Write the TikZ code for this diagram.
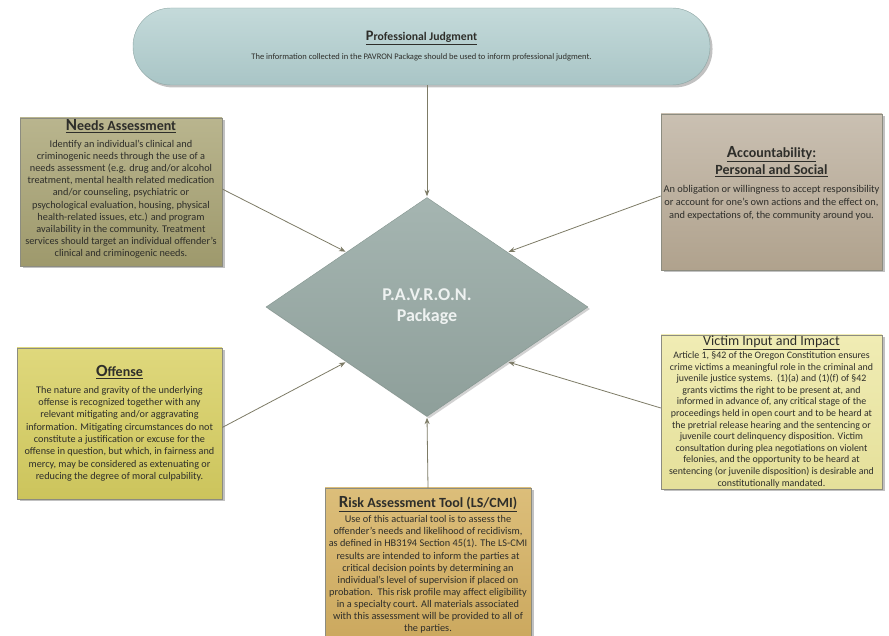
\documentclass[tikz,border=0pt]{standalone}
\usepackage{fontspec}
\setmainfont{Carlito}
\usetikzlibrary{shapes.geometric,shadows,arrows.meta}

% colours of the boxes
\definecolor{pillTop}{HTML}{C4DADA}
\definecolor{pillBot}{HTML}{A9C5C6}
\definecolor{pillLine}{HTML}{8EA6A4}
\definecolor{diaTop}{HTML}{A5B5B1}
\definecolor{diaBot}{HTML}{8E9F9A}
\definecolor{diaLine}{HTML}{84958F}
\definecolor{needTop}{HTML}{B9B58E}
\definecolor{needBot}{HTML}{9E996C}
\definecolor{accTop}{HTML}{CAC0B2}
\definecolor{accBot}{HTML}{B0A28D}
\definecolor{offTop}{HTML}{DFD87C}
\definecolor{offBot}{HTML}{CCC45C}
\definecolor{vicTop}{HTML}{F0ECB4}
\definecolor{vicBot}{HTML}{E5E09A}
\definecolor{riskTop}{HTML}{DCBE7A}
\definecolor{riskBot}{HTML}{CBA85E}
\definecolor{boxLine}{HTML}{8C8C80}
\definecolor{arrowCol}{HTML}{7D7B66}
\definecolor{inkCol}{HTML}{2E2E2A}
\definecolor{diaText}{HTML}{EEF2F1}

% underlined bold heading with an enlarged first letter
\newcommand{\boxtitle}[2]{\underline{\bfseries{\fontsize{17}{18}\selectfont #1}#2}}

\begin{document}
\begin{tikzpicture}[x=1pt,y=1pt,
  infobox/.style={draw=boxLine, line width=0.4pt, rectangle, inner sep=0pt,
    align=center, text=inkCol,
    drop shadow={shadow xshift=2.5pt, shadow yshift=-2.5pt, opacity=0.35, fill=black!70},
    font=\fontsize{10.3}{12.1}\selectfont},
  feed/.style={draw=arrowCol, line width=0.8pt, -{Stealth[length=6.5pt,width=5pt]}, shorten >=1pt}
]
\useasboundingbox (0,0) rectangle (889,635);

% top banner
\node[infobox, draw=pillLine, rounded corners=38pt, minimum width=577pt, minimum height=77pt,
      top color=pillTop, bottom color=pillBot,
      font=\fontsize{8.5}{10}\selectfont] (judge) at (421.5,588.5)
  {\underline{\bfseries{\fontsize{14.5}{16}\selectfont P}\fontsize{11.7}{13}\selectfont rofessional Judgment}\\[9pt]
   The information collected in the PAVRON Package should be used to inform professional judgment.};

% central diamond
\node[diamond, draw=diaLine, line width=0.4pt, minimum width=322pt, minimum height=219pt,
      aspect=1.47, inner sep=0pt, top color=diaTop, bottom color=diaBot,
      drop shadow={shadow xshift=2pt, shadow yshift=-2pt, opacity=0.25, fill=black!70},
      align=center, text=diaText, font=\bfseries\fontsize{18}{21}\selectfont] (pav) at (427,328)
  {P.A.V.R.O.N.\\Package};

% needs assessment
\node[infobox, minimum width=202pt, minimum height=148pt, top color=needTop, bottom color=needBot] (needs) at (121,443)
  {{\fontsize{14}{16}\selectfont\boxtitle{N}{eeds Assessment}}\\[5pt]
   Identify an individual’s clinical and\\
   criminogenic needs through the use of a\\
   needs assessment (e.g. drug and/or alcohol\\
   treatment, mental health related medication\\
   and/or counseling, psychiatric or\\
   psychological evaluation, housing, physical\\
   health-related issues, etc.) and program\\
   availability in the community. Treatment\\
   services should target an individual offender’s\\
   clinical and criminogenic needs.\\[-4pt]};

% accountability
\node[infobox, minimum width=221pt, minimum height=156pt, top color=accTop, bottom color=accBot,
      font=\fontsize{10.4}{13}\selectfont] (acc) at (771.5,443)
  {{\fontsize{14}{16}\selectfont\boxtitle{A}{ccountability:}}\\[2pt]
   {\fontsize{14}{16}\selectfont\underline{\bfseries Personal and Social}}\\[5pt]
   An obligation or willingness to accept responsibility\\
   or account for one’s own actions and the effect on,\\
   and expectations of, the community around you.\\[6pt]};

% offense
\node[infobox, minimum width=205pt, minimum height=151pt, top color=offTop, bottom color=offBot,
      font=\fontsize{10.2}{12.3}\selectfont] (off) at (119.5,211.5)
  {{\fontsize{14}{16}\selectfont\boxtitle{O}{ffense}}\\[4pt]
   The nature and gravity of the underlying\\
   offense is recognized together with any\\
   relevant mitigating and/or aggravating\\
   information. Mitigating circumstances do not\\
   constitute a justification or excuse for the\\
   offense in question, but which, in fairness and\\
   mercy, may be considered as extenuating or\\
   reducing the degree of moral culpability.};

% victim input
\node[infobox, minimum width=221pt, minimum height=154pt, top color=vicTop, bottom color=vicBot,
      font=\fontsize{9.9}{11.6}\selectfont] (vic) at (771.5,223)
  {{\fontsize{14}{16}\selectfont\underline{Victim Input and Impact}}\\[1pt]
   Article 1, §42 of the Oregon Constitution ensures\\
   crime victims a meaningful role in the criminal and\\
   juvenile justice systems.\ \ (1)(a) and (1)(f) of §42\\
   grants victims the right to be present at, and\\
   informed in advance of, any critical stage of the\\
   proceedings held in open court and to be heard at\\
   the pretrial release hearing and the sentencing or\\
   juvenile court delinquency disposition. Victim\\
   consultation during plea negotiations on violent\\
   felonies, and the opportunity to be heard at\\
   sentencing (or juvenile disposition) is desirable and\\
   constitutionally mandated.};

% risk assessment tool
\node[infobox, minimum width=206pt, minimum height=154pt, top color=riskTop, bottom color=riskBot,
      font=\fontsize{10.3}{12.1}\selectfont] (risk) at (428,70)
  {{\fontsize{14}{16}\selectfont\boxtitle{R}{isk Assessment Tool (LS/CMI)}}\\[3pt]
   Use of this actuarial tool is to assess the\\
   offender’s needs and likelihood of recidivism,\\
   as defined in HB3194 Section 45(1). The LS-CMI\\
   results are intended to inform the parties at\\
   critical decision points by determining an\\
   individual’s level of supervision if placed on\\
   probation.\ \ This risk profile may affect eligibility\\
   in a specialty court. All materials associated\\
   with this assessment will be provided to all of\\
   the parties.};

% connectors into the package
\draw[feed] (judge.south -| pav.north) -- (pav.north);
\draw[feed] ([yshift=3pt]needs.east) -- (pav.north west);
\draw[feed] ([yshift=-4pt]acc.west) -- (pav.north east);
\draw[feed] ([yshift=-4pt]off.east) -- (pav.south west);
\draw[feed] ([yshift=4pt]vic.west) -- (pav.south east);
\draw[feed] (risk.north) -- (pav.south);
\end{tikzpicture}
\end{document}
